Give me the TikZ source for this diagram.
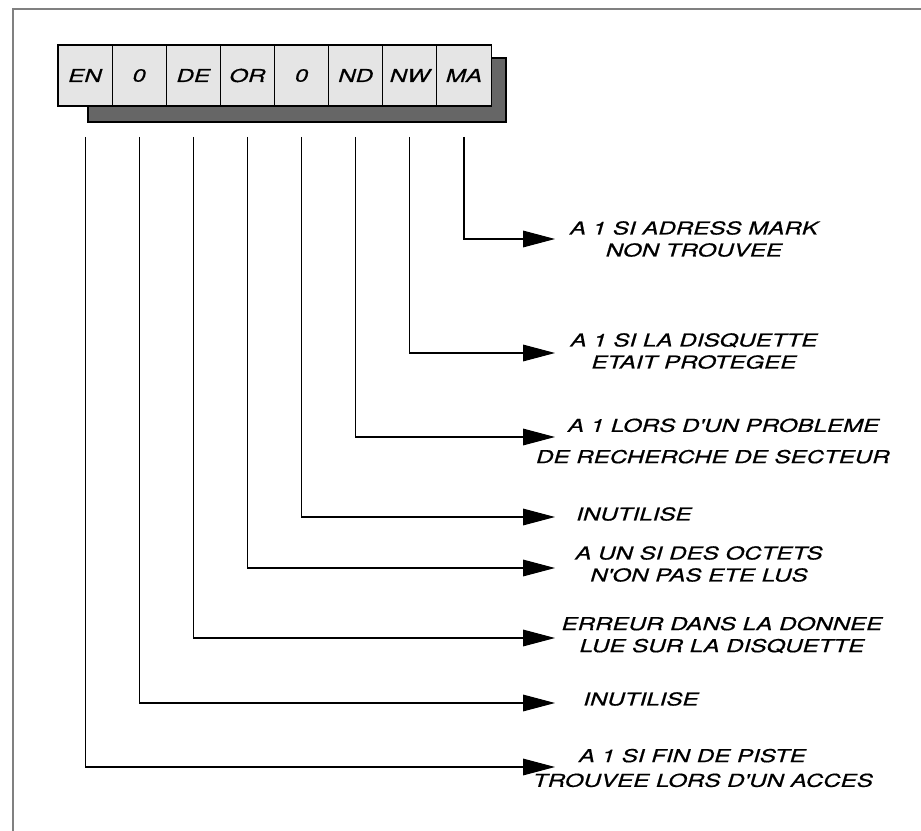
\documentclass[tikz,border=0pt]{standalone}
\usepackage{fontspec}
\newfontfamily\labfont{TeX Gyre Heros}[FakeStretch=1.36,FakeBold=0.6]
\usepackage{tikz}
\usetikzlibrary{arrows.meta,positioning}

\begin{document}
\begin{tikzpicture}[
    x=0.75pt, y=-0.75pt,
    >={Triangle[length=24pt,width=12.5pt]},
    font=\labfont\itshape\fontsize{13.3}{16.5}\selectfont,
    bit/.style={draw, line width=0.8pt, fill=black!10, outer sep=0pt,
      inner sep=0pt, minimum width=40.6pt, minimum height=45.75pt},
    note/.style={align=center},
    wire/.style={->, line width=0.8pt},
  ]
  \useasboundingbox (0,0) rectangle (921,831);

  % Frame
  \draw[black!50, line width=1.3pt] (13,831) -- (13,9) -- (921,9);

  % Shadow of the register
  \draw[line width=0.8pt, fill=black!60] (88,58) rectangle (506,122);

  % Register bits
  \node[bit, anchor=north west] (en) at (58,45) {EN};
  \node[bit, right=0pt of en] (zeroa) {0};
  \node[bit, right=0pt of zeroa] (de) {DE};
  \node[bit, right=0pt of de] (or) {OR};
  \node[bit, right=0pt of or] (zerob) {0};
  \node[bit, right=0pt of zerob] (nd) {ND};
  \node[bit, right=0pt of nd] (nw) {NW};
  \node[bit, right=0pt of nw] (ma) {MA};

  % Arrow tips
  \coordinate (matip) at (555,239);
  \coordinate (nwtip) at (555,353);
  \coordinate (ndtip) at (555,437);
  \coordinate (zerobtip) at (555,517);
  \coordinate (ortip) at (555,568);
  \coordinate (detip) at (555,638);
  \coordinate (zeroatip) at (555,703);
  \coordinate (entip) at (555,767);

  % Descriptions
  \node[note] (malab) at (694,239) {A 1 SI ADRESS MARK\\NON TROUVEE};
  \node[note] (nwlab) at (694,351) {A 1 SI LA DISQUETTE\\ETAIT PROTEGEE};
  \node[note] (ndlab) at (713,441) {\hspace*{16pt}A 1 LORS D'UN PROBLEME\\[7pt]DE RECHERCHE DE SECTEUR};
  \node[note] (zeroblab) at (634,514) {INUTILISE};
  \node[note] (orlab) at (699,564) {A UN SI DES OCTETS\\N'ON PAS ETE LUS};
  \node[note] (delab) at (722,635) {ERREUR DANS LA DONNEE\\LUE SUR LA DISQUETTE};
  \node[note] (zeroalab) at (641,699) {INUTILISE};
  \node[note] (enlab) at (703,768) {\hspace*{-16pt}A 1 SI FIN DE PISTE\\[2pt]TROUVEE LORS D'UN ACCES};

  % Connectors
  \draw[wire] (ma.south) ++(0,31) |- (matip);
  \draw[wire] (nw.south) ++(0,31) |- (nwtip);
  \draw[wire] (nd.south) ++(0,31) |- (ndtip);
  \draw[wire] (zerob.south) ++(0,31) |- (zerobtip);
  \draw[wire] (or.south) ++(0,31) |- (ortip);
  \draw[wire] (de.south) ++(0,31) |- (detip);
  \draw[wire] (zeroa.south) ++(0,31) |- (zeroatip);
  \draw[wire] (en.south) ++(0,31) |- (entip);
\end{tikzpicture}
\end{document}
